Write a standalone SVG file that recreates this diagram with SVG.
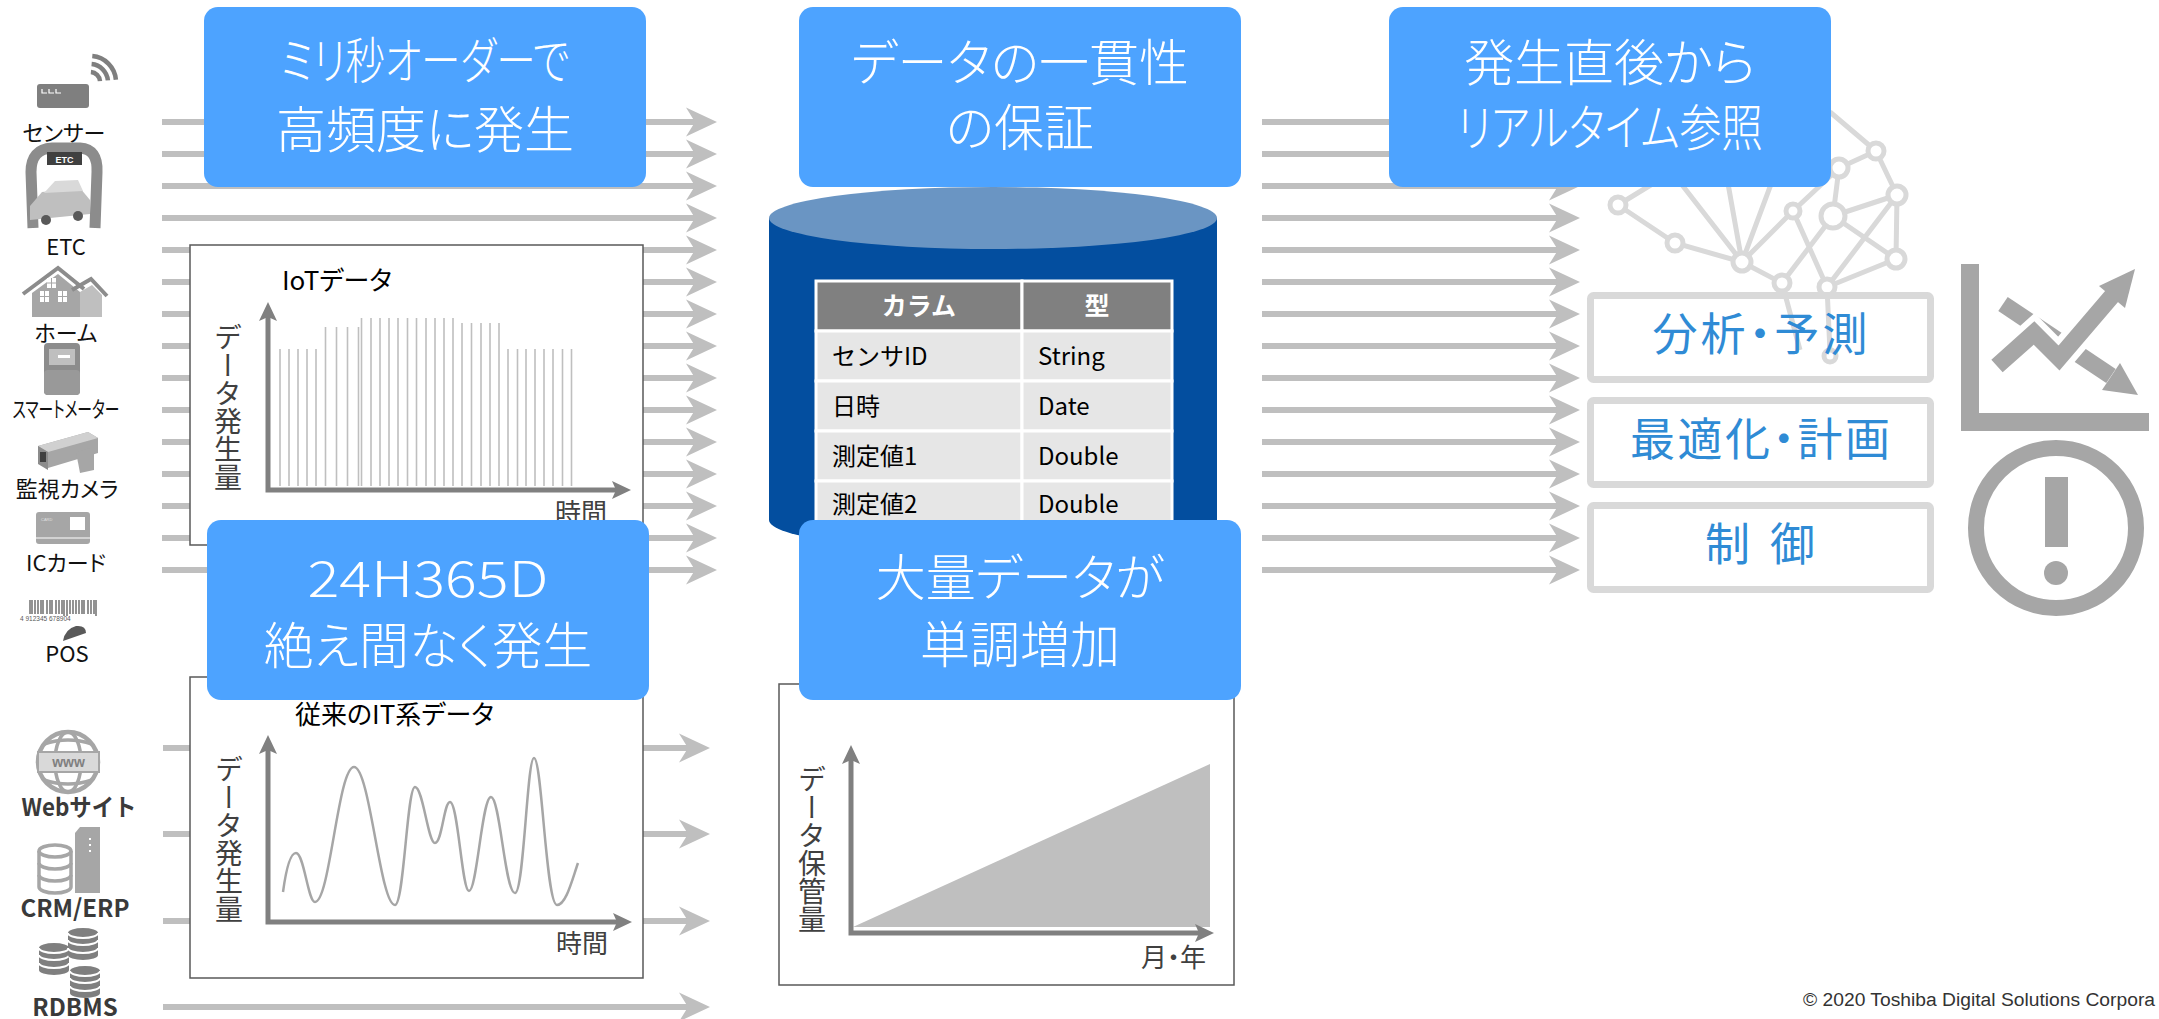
<svg xmlns="http://www.w3.org/2000/svg" width="2159" height="1019" viewBox="0 0 2159 1019" font-family="'Noto Sans CJK JP', 'Noto Sans', sans-serif">
<defs>
<style>
.flow{stroke:#bfbfbf;stroke-width:6;fill:none;marker-end:url(#ah)}
.callout{fill:#4da3ff}
.ct{fill:#fff;font-size:50px;font-weight:300;text-anchor:middle;font-feature-settings:"palt"}
.frame{fill:#fff;stroke:#595959;stroke-width:1.5}
.axis{stroke:#808080;stroke-width:5;fill:none;marker-start:url(#axh);marker-end:url(#axh)}
.cap{fill:#000;font-size:26px;font-feature-settings:"palt"}
.vl{fill:#404040;font-size:28px;writing-mode:vertical-rl}
.ul{fill:#404040;font-size:26px;text-anchor:end;font-feature-settings:"palt"}
.bar{stroke:#bfbfbf;stroke-width:1.6}
.use-box{fill:none;stroke:#d9d9d9;stroke-width:7}
.use-t{fill:#2f8bd5;font-size:45px;text-anchor:middle;font-feature-settings:"palt"}
.lab{fill:#111;font-size:22px;text-anchor:middle;font-feature-settings:"palt"}
.labb{fill:#3a3a3a;font-size:24px;font-weight:bold;text-anchor:middle}
.net{stroke:#d9d9d9;stroke-width:5;fill:none}
.nd{fill:#fff;stroke:#d9d9d9;stroke-width:5}
.cell{fill:#e6e6e6;stroke:#fff;stroke-width:3}
.hcell{fill:#808080;stroke:#fff;stroke-width:3}
.tb{font-size:24px;fill:#000}
.th{font-size:25px;fill:#fff;font-weight:bold;text-anchor:middle}
.ig{fill:#a6a6a6}
.dk{fill:#7f7f7f}
</style>
<marker id="ah" markerUnits="userSpaceOnUse" markerWidth="32" markerHeight="32" viewBox="0 0 32 32" refX="10" refY="16" orient="auto">
<path d="M0,1.5 L31,16 L0,30.5 L9,16 Z" fill="#bfbfbf"/>
</marker>
<marker id="axh" markerUnits="userSpaceOnUse" markerWidth="20" markerHeight="20" viewBox="0 0 20 20" refX="4" refY="10" orient="auto-start-reverse">
<path d="M0,1 L19,10 L0,19 L4,10 Z" fill="#808080"/>
</marker>
<symbol id="disks" viewBox="0 0 30 32" overflow="visible">
<path d="M0,5 A15,5 0 0 1 30,5 V27 A15,5 0 0 1 0,27 Z" fill="#7f7f7f"/>
<path d="M0,12 A15,5 0 0 0 30,12 M0,20 A15,5 0 0 0 30,20 M0,5 A15,5 0 0 0 30,5" fill="none" stroke="#fff" stroke-width="2"/>
</symbol>
</defs>

<rect width="2159" height="1019" fill="#fff"/>

<!-- data flows -->
<g id="connectors">
<g id="flow-iot">
<line class="flow" x1="162" y1="122" x2="696" y2="122"/>
<line class="flow" x1="162" y1="154" x2="696" y2="154"/>
<line class="flow" x1="162" y1="186" x2="696" y2="186"/>
<line class="flow" x1="162" y1="218" x2="696" y2="218"/>
<line class="flow" x1="162" y1="250" x2="696" y2="250"/>
<line class="flow" x1="162" y1="282" x2="696" y2="282"/>
<line class="flow" x1="162" y1="314" x2="696" y2="314"/>
<line class="flow" x1="162" y1="346" x2="696" y2="346"/>
<line class="flow" x1="162" y1="378" x2="696" y2="378"/>
<line class="flow" x1="162" y1="410" x2="696" y2="410"/>
<line class="flow" x1="162" y1="442" x2="696" y2="442"/>
<line class="flow" x1="162" y1="474" x2="696" y2="474"/>
<line class="flow" x1="162" y1="506" x2="696" y2="506"/>
<line class="flow" x1="162" y1="538" x2="696" y2="538"/>
<line class="flow" x1="162" y1="570" x2="696" y2="570"/>
</g>
<g id="flow-it">
<line class="flow" x1="163" y1="748" x2="689" y2="748"/>
<line class="flow" x1="163" y1="834" x2="689" y2="834"/>
<line class="flow" x1="163" y1="921" x2="689" y2="921"/>
<line class="flow" x1="163" y1="1007" x2="689" y2="1007"/>
</g>
<g id="flow-out">
<line class="flow" x1="1262" y1="122" x2="1559" y2="122"/>
<line class="flow" x1="1262" y1="154" x2="1559" y2="154"/>
<line class="flow" x1="1262" y1="186" x2="1559" y2="186"/>
<line class="flow" x1="1262" y1="218" x2="1559" y2="218"/>
<line class="flow" x1="1262" y1="250" x2="1559" y2="250"/>
<line class="flow" x1="1262" y1="282" x2="1559" y2="282"/>
<line class="flow" x1="1262" y1="314" x2="1559" y2="314"/>
<line class="flow" x1="1262" y1="346" x2="1559" y2="346"/>
<line class="flow" x1="1262" y1="378" x2="1559" y2="378"/>
<line class="flow" x1="1262" y1="410" x2="1559" y2="410"/>
<line class="flow" x1="1262" y1="442" x2="1559" y2="442"/>
<line class="flow" x1="1262" y1="474" x2="1559" y2="474"/>
<line class="flow" x1="1262" y1="506" x2="1559" y2="506"/>
<line class="flow" x1="1262" y1="538" x2="1559" y2="538"/>
<line class="flow" x1="1262" y1="570" x2="1559" y2="570"/>
</g>
</g>

<!-- source icons -->
<g id="src-sensor">
<rect x="37" y="84" width="52" height="24" rx="3" class="dk"/>
<path d="M42,89 v4 h5 M49,89 v4 h5 M56,89 v4 h5" stroke="#fff" stroke-width="1.2" fill="none"/>
<path d="M90.9,72 A10,10 0 0 1 100,81.1 M91.6,64.1 A18,18 0 0 1 107.9,80.4 M92.3,56.1 A26,26 0 0 1 115.9,79.7" stroke="#7f7f7f" stroke-width="4.5" fill="none"/>
<text class="lab" x="64" y="141">センサー</text>
</g>
<g id="src-etc">
<path d="M33,228 L31,172 Q31,149 52,148 L80,148 Q98,149 97,172 L95,228" stroke="#8c8c8c" stroke-width="11" fill="none"/>
<rect x="47" y="152" width="35" height="13" fill="#404040"/>
<text x="64.5" y="162.5" font-size="9" font-weight="bold" fill="#fff" text-anchor="middle" font-family="'Liberation Sans', sans-serif">ETC</text>
<path d="M30,206 L42,192 L80,188 L90,200 L90,214 L30,220 Z" fill="#bfbfbf"/>
<path d="M44,193 L55,181 L78,180 L83,191 Z" fill="#d9d9d9"/>
<circle cx="46" cy="220" r="5" fill="#595959"/>
<circle cx="78" cy="216" r="5" fill="#595959"/>
<text class="lab" x="66" y="255" font-size="24">ETC</text>
</g>
<g id="src-home">
<path d="M32,293 L58,274 L80,292 L80,317 L32,317 Z" fill="#a6a6a6"/>
<path d="M80,292 L92,285 L102,295 L102,317 L80,317 Z" fill="#bfbfbf"/>
<path d="M23,294 L58,268 L84,289 M72,290 L91,279 L107,296" stroke="#8c8c8c" stroke-width="4" fill="none"/>
<path d="M47,278 h9 v10 h-9 Z M40,291 h9 v11 h-9 Z M58,291 h9 v11 h-9 Z" fill="#fff"/>
<path d="M51.5,278 v10 M44.5,291 v11 M62.5,291 v11 M47,283 h9 M40,296.5 h9 M58,296.5 h9" stroke="#a6a6a6" stroke-width="1"/>
<text class="lab" x="66" y="341">ホーム</text>
</g>
<g id="src-meter">
<rect x="44" y="343" width="36" height="52" rx="4" fill="#8c8c8c"/>
<rect x="49" y="349" width="26" height="16" fill="#bfbfbf"/>
<rect x="58" y="355" width="12" height="3" fill="#fff"/>
<rect x="44" y="370" width="36" height="25" rx="4" fill="#999"/>
<text class="lab" x="66" y="417" font-size="20" textLength="107" lengthAdjust="spacingAndGlyphs">スマートメーター</text>
</g>
<g id="src-camera">
<path d="M38,446 L88,432 L98,438 L98,453 L48,468 L38,462 Z" fill="#a6a6a6"/>
<path d="M38,446 L88,432 L98,438 L48,452 Z" fill="#d0d0d0"/>
<path d="M38,446 L48,452 L48,470 L38,464 Z" fill="#8c8c8c"/>
<rect x="40" y="452" width="6" height="10" fill="#404040"/>
<path d="M76,452 L94,447 L94,470 L80,473 Z" fill="#a6a6a6"/>
<text class="lab" x="67" y="497">監視カメラ</text>
</g>
<g id="src-iccard">
<rect x="36" y="512" width="54" height="32" rx="3" fill="#a6a6a6"/>
<rect x="70" y="517" width="15" height="13" fill="#fff"/>
<text x="41" y="521" font-size="4" fill="#e0e0e0" font-family="'Liberation Sans', sans-serif">CARD</text>
<line x1="36" y1="538" x2="90" y2="538" stroke="#e0e0e0" stroke-width="1.5"/>
<text class="lab" x="66" y="571" font-size="23">ICカード</text>
</g>
<g id="src-pos">
<path d="M30,600 v14 M32,600 v14 M35,600 v14 M38,600 v14 M41,600 v14 M43,600 v14 M47,600 v14 M50,600 v14 M52,600 v14 M56,600 v14 M59,600 v14 M62,600 v14 M64,600 v16 M67,600 v16 M70,600 v14 M73,600 v14 M76,600 v14 M79,600 v14 M82,600 v14 M84,600 v14 M88,600 v14 M91,600 v14 M94,600 v14 M96,600 v16" stroke="#595959" stroke-width="1.3"/>
<text x="20" y="621" font-size="6.5" fill="#595959" font-family="'Liberation Sans', sans-serif">4  912345  678904</text>
<path d="M63,641 Q65,629 76,626 Q86,625 86,633 Z" fill="#595959"/>
<text class="lab" x="67" y="662" font-size="24">POS</text>
</g>
<g id="src-web">
<circle cx="68" cy="762" r="30" fill="#fff" stroke="#a6a6a6" stroke-width="4.5"/>
<ellipse cx="68" cy="762" rx="13" ry="30" fill="none" stroke="#a6a6a6" stroke-width="3.5"/>
<path d="M44,744 Q68,736 92,744 M44,780 Q68,788 92,780" fill="none" stroke="#a6a6a6" stroke-width="3.5"/>
<rect x="38" y="752" width="61" height="20" fill="#d9d9d9" stroke="#a6a6a6" stroke-width="2"/>
<text x="68.5" y="767" font-size="14" font-weight="bold" fill="#808080" text-anchor="middle" font-family="'Liberation Sans', sans-serif">www</text>
<text class="labb" x="79" y="816" textLength="115" lengthAdjust="spacingAndGlyphs">Webサイト</text>
</g>
<g id="src-crm">
<path d="M39,851 V887 A16,6 0 0 0 71,887 V851" fill="#fff" stroke="#a6a6a6" stroke-width="3.5"/>
<ellipse cx="55" cy="851" rx="16" ry="6" fill="#fff" stroke="#a6a6a6" stroke-width="3.5"/>
<path d="M39,863 A16,6 0 0 0 71,863 M39,875 A16,6 0 0 0 71,875" fill="none" stroke="#a6a6a6" stroke-width="3.5"/>
<path d="M75,833 L80,827 L100,827 L100,893 L75,893 Z" fill="#a6a6a6"/>
<path d="M90,838 v2 M90,844 v2 M90,850 v2" stroke="#fff" stroke-width="2"/>
<text class="labb" x="75" y="917">CRM/ERP</text>
</g>
<g id="src-rdbms">
<use href="#disks" x="39" y="943" width="30" height="32"/>
<use href="#disks" x="68" y="928" width="30" height="32"/>
<use href="#disks" x="70" y="966" width="30" height="32"/>
<text class="labb" x="75" y="1016">RDBMS</text>
</g>

<!-- IoT data chart -->
<g id="chart-iot">
<rect class="frame" x="190" y="245" width="453" height="300"/>
<text class="cap" x="282" y="290">IoTデータ</text>
<g class="bar">
<path d="M280,486V349 M289,486V349 M298,486V349 M307,486V349 M316,486V349"/>
<path d="M325.5,486V327 M336.5,486V327 M347.5,486V327 M358.5,486V327"/>
<path d="M361.5,486V318 M371,486V318 M380,486V318 M389,486V318 M398,486V318 M407.5,486V318 M416.5,486V318 M426,486V318 M435,486V318 M444,486V318 M453,486V318"/>
<path d="M462,486V323 M471.5,486V323 M481,486V323 M490,486V323 M499,486V323"/>
<path d="M508,486V349 M517.5,486V349 M526,486V349 M535,486V349 M544,486V349 M553,486V349 M562.5,486V349 M571.5,486V349"/>
</g>
<path class="axis" d="M268,317 V490 H616"/>
<text class="vl" x="228" y="323">データ発生量</text>
<text class="ul" x="607" y="522">時間</text>
</g>

<!-- conventional IT data chart -->
<g id="chart-it">
<rect class="frame" x="190" y="677" width="453" height="301"/>
<text class="cap" x="295" y="724">従来のIT系データ</text>
<path d="M283,892 C286,870 290,853 296,853 C304,853 308,902 315,902 C330,902 338,767 354,767 C370,767 380,905 395,905 C404,905 407,787 415,787 C423,787 428,843 435,843 C442,843 444,802 450,802 C458,802 462,891 469,891 C477,891 482,797 491,797 C500,797 505,893 515,893 C524,893 527,758 534,758 C542,758 546,905 557,905 C566,905 572,880 578,863" fill="none" stroke="#a6a6a6" stroke-width="2.5"/>
<path class="axis" d="M268,750 V922 H617"/>
<text class="vl" x="229" y="755">データ発生量</text>
<text class="ul" x="608" y="953">時間</text>
</g>

<!-- storage volume chart -->
<g id="chart-volume">
<rect class="frame" x="779" y="684" width="455" height="301"/>
<path d="M853,927 L1210,764 L1210,927 Z" fill="#bfbfbf"/>
<path class="axis" d="M851,760 V933 H1199"/>
<text class="vl" x="812" y="765">データ保管量</text>
<text class="ul" x="1206" y="967">月・年</text>
</g>

<!-- database cylinder with schema -->
<g id="db-store">
<path d="M769,218 V520 A224,31 0 0 0 1217,520 V218 Z" fill="#034e9f"/>
<ellipse cx="993" cy="218" rx="224" ry="31" fill="#6a95c3"/>
<g id="schema-table">
<rect class="hcell" x="816" y="281" width="206" height="50"/>
<rect class="hcell" x="1022" y="281" width="150" height="50"/>
<rect class="cell" x="816" y="331" width="206" height="50"/>
<rect class="cell" x="1022" y="331" width="150" height="50"/>
<rect class="cell" x="816" y="381" width="206" height="50"/>
<rect class="cell" x="1022" y="381" width="150" height="50"/>
<rect class="cell" x="816" y="431" width="206" height="50"/>
<rect class="cell" x="1022" y="431" width="150" height="50"/>
<rect class="cell" x="816" y="481" width="206" height="50"/>
<rect class="cell" x="1022" y="481" width="150" height="50"/>
<text class="th" x="919" y="315">カラム</text>
<text class="th" x="1097" y="315">型</text>
<text class="tb" x="832" y="365">センサID</text>
<text class="tb" x="1038" y="365">String</text>
<text class="tb" x="832" y="415">日時</text>
<text class="tb" x="1038" y="415">Date</text>
<text class="tb" x="832" y="465">測定値1</text>
<text class="tb" x="1038" y="465">Double</text>
<text class="tb" x="832" y="513">測定値2</text>
<text class="tb" x="1038" y="513">Double</text>
</g>
</g>

<!-- network (AI) graphic -->
<g id="ai-network">
<path class="net" d="M1618,205 L1675,243 L1742,262 M1618,205 L1672,172 M1742,262 L1672,172 M1742,262 L1722,150 M1742,262 L1780,160 M1742,262 L1793,211 M1742,262 L1782,283 M1793,211 L1827,287 M1793,211 L1839,168 M1782,283 L1833,216 M1833,216 L1897,195 M1833,216 L1896,259 M1833,216 L1839,168 M1839,168 L1876,151 M1876,151 L1897,195 M1897,195 L1896,259 M1897,195 L1827,287 M1896,259 L1827,287 M1876,151 L1830,112 M1782,283 L1800,350 M1827,287 L1830,352"/>
<circle class="nd" cx="1618" cy="205" r="8"/>
<circle class="nd" cx="1675" cy="243" r="8"/>
<circle class="nd" cx="1742" cy="262" r="9"/>
<circle class="nd" cx="1793" cy="211" r="7"/>
<circle class="nd" cx="1782" cy="283" r="8"/>
<circle class="nd" cx="1827" cy="287" r="8"/>
<circle class="nd" cx="1833" cy="216" r="12"/>
<circle class="nd" cx="1897" cy="195" r="9"/>
<circle class="nd" cx="1896" cy="259" r="9"/>
<circle class="nd" cx="1839" cy="168" r="9"/>
<circle class="nd" cx="1876" cy="151" r="8"/>
<circle class="nd" cx="1830" cy="356" r="6"/>
</g>

<!-- callouts -->
<g id="callout-ms">
<rect class="callout" x="204" y="7" width="442" height="180" rx="14"/>
<text class="ct" x="425" y="79" textLength="289" lengthAdjust="spacingAndGlyphs">ミリ秒オーダーで</text>
<text class="ct" x="425" y="148">高頻度に発生</text>
</g>
<g id="callout-24h">
<rect class="callout" x="207" y="520" width="442" height="180" rx="14"/>
<text class="ct" x="428" y="597" font-size="56" textLength="241" lengthAdjust="spacingAndGlyphs">24H365D</text>
<text class="ct" x="428" y="664">絶え間なく発生</text>
</g>
<g id="callout-consistency">
<rect class="callout" x="799" y="7" width="442" height="180" rx="14"/>
<text class="ct" x="1020" y="81">データの一貫性</text>
<text class="ct" x="1020" y="146">の保証</text>
</g>
<g id="callout-volume">
<rect class="callout" x="799" y="520" width="442" height="180" rx="14"/>
<text class="ct" x="1020" y="596">大量データが</text>
<text class="ct" x="1020" y="663">単調増加</text>
</g>
<g id="callout-realtime">
<rect class="callout" x="1389" y="7" width="442" height="180" rx="14"/>
<text class="ct" x="1610" y="81">発生直後から</text>
<text class="ct" x="1610" y="146" textLength="306" lengthAdjust="spacingAndGlyphs">リアルタイム参照</text>
</g>

<!-- uses of the data -->
<g id="use-analysis">
<rect class="use-box" x="1590.5" y="295.5" width="340" height="84" rx="3"/>
<text class="use-t" x="1760" y="351" textLength="215" lengthAdjust="spacing">分析・予測</text>
</g>
<g id="use-optimize">
<rect class="use-box" x="1590.5" y="400.5" width="340" height="84" rx="3"/>
<text class="use-t" x="1760" y="456" textLength="260" lengthAdjust="spacing">最適化・計画</text>
</g>
<g id="use-control">
<rect class="use-box" x="1590.5" y="505.5" width="340" height="84" rx="3"/>
<text class="use-t" x="1760" y="561" textLength="110" lengthAdjust="spacing">制 御</text>
</g>

<!-- trend icon -->
<g id="icon-trend">
<rect class="ig" x="1961" y="264" width="18" height="167"/>
<rect class="ig" x="1961" y="413" width="188" height="18"/>
<line x1="2003" y1="304" x2="2111" y2="376" stroke="#a6a6a6" stroke-width="17"/>
<path d="M2138,395 L2102,390 L2120,363 Z" fill="#a6a6a6"/>
<polyline points="1997,366 2034,333 2059,358 2112,296" fill="none" stroke="#fff" stroke-width="29" stroke-linejoin="miter"/>
<polyline points="1997,366 2034,333 2059,358 2112,296" fill="none" stroke="#a6a6a6" stroke-width="17" stroke-linejoin="miter"/>
<path d="M2135,269 L2125,308 L2099,286 Z" fill="#a6a6a6"/>
</g>

<!-- alert icon -->
<g id="icon-alert">
<circle cx="2056" cy="528" r="80" fill="none" stroke="#a6a6a6" stroke-width="16"/>
<rect class="ig" x="2045" y="477" width="23" height="70"/>
<circle class="ig" cx="2056" cy="573" r="12"/>
</g>

<text x="1803" y="1006" font-size="18" fill="#333" font-family="'Liberation Sans', sans-serif" textLength="352" lengthAdjust="spacingAndGlyphs">© 2020 Toshiba Digital Solutions Corpora</text>
</svg>
